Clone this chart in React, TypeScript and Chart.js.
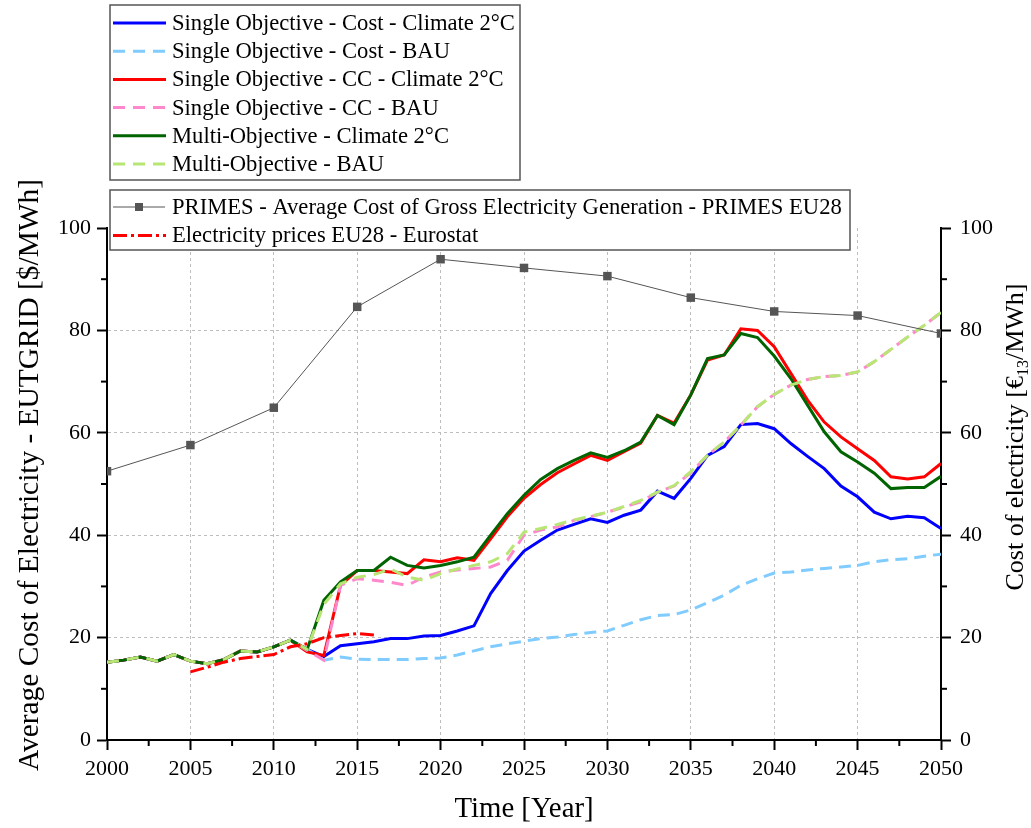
import React, { useEffect, useRef } from 'react';
import { Chart, registerables } from 'chart.js';

Chart.register(...registerables);

const FONT = '"Liberation Serif", "Times New Roman", serif';

// ---------- data ----------
const years = [
  2000, 2001, 2002, 2003, 2004, 2005, 2006, 2007, 2008, 2009,
  2010, 2011, 2012, 2013, 2014, 2015, 2016, 2017, 2018, 2019,
  2020, 2021, 2022, 2023, 2024, 2025, 2026, 2027, 2028, 2029,
  2030, 2031, 2032, 2033, 2034, 2035, 2036, 2037, 2038, 2039,
  2040, 2041, 2042, 2043, 2044, 2045, 2046, 2047, 2048, 2049, 2050,
];

const soCostClimate = [
  15.2, 15.6, 16.2, 15.4, 16.7, 15.4, 14.9, 15.7, 17.4, 17.2,
  18.2, 19.5, 17.7, 16.3, 18.4, 18.8, 19.2, 19.8, 19.8, 20.3,
  20.4, 21.3, 22.3, 28.6, 33.1, 36.9, 39.0, 41.0, 42.1, 43.2,
  42.5, 43.9, 44.9, 48.6, 47.2, 51.1, 55.6, 57.3, 61.6, 61.8,
  60.8, 57.9, 55.4, 53.0, 49.6, 47.5, 44.5, 43.2, 43.7, 43.4, 41.3,
];

const soCostBAU = [
  15.2, 15.6, 16.2, 15.4, 16.7, 15.4, 14.9, 15.7, 17.4, 17.2,
  18.2, 19.5, 17.7, 15.6, 16.2, 15.8, 15.7, 15.7, 15.7, 15.9,
  16.0, 16.6, 17.4, 18.2, 18.8, 19.3, 19.8, 20.1, 20.6, 21.0,
  21.3, 22.4, 23.5, 24.3, 24.5, 25.4, 26.8, 28.3, 30.2, 31.5,
  32.6, 32.8, 33.2, 33.5, 33.8, 34.1, 34.8, 35.2, 35.4, 35.9, 36.3,
];

const soCCClimate = [
  15.2, 15.6, 16.2, 15.4, 16.7, 15.4, 14.9, 15.7, 17.4, 17.2,
  18.2, 19.5, 17.2, 16.5, 30.2, 33.1, 33.1, 32.8, 32.5, 35.2,
  34.8, 35.6, 35.1, 39.3, 43.6, 47.2, 49.9, 52.2, 53.9, 55.6,
  54.6, 56.3, 58.0, 63.4, 61.9, 67.4, 74.2, 75.2, 80.3, 80.0,
  76.8, 71.6, 66.4, 62.1, 59.2, 56.9, 54.6, 51.4, 51.0, 51.4, 54.0,
];

const soCCBAU = [
  15.2, 15.6, 16.2, 15.4, 16.7, 15.4, 14.9, 15.7, 17.4, 17.2,
  18.2, 19.5, 17.5, 15.6, 30.2, 31.5, 31.2, 30.8, 30.2, 31.8,
  32.8, 33.2, 33.5, 33.8, 35.1, 40.0, 41.0, 41.6, 42.9, 43.6,
  44.5, 45.5, 46.5, 48.4, 49.6, 52.2, 55.6, 58.2, 61.5, 65.1,
  67.5, 69.3, 70.4, 71.0, 71.2, 71.9, 73.9, 76.3, 78.7, 81.0, 83.5,
];

const moClimate = [
  15.2, 15.6, 16.2, 15.4, 16.7, 15.4, 14.9, 15.7, 17.4, 17.2,
  18.2, 19.5, 17.7, 27.3, 30.9, 33.1, 33.1, 35.7, 34.1, 33.6,
  34.1, 34.8, 35.7, 40.0, 44.2, 47.8, 50.9, 53.0, 54.6, 56.1,
  55.2, 56.5, 58.2, 63.4, 61.6, 67.4, 74.5, 75.2, 79.4, 78.6,
  75.0, 70.6, 65.4, 60.2, 56.3, 54.3, 52.1, 49.1, 49.3, 49.3, 51.5,
];

const moBAU = [
  15.2, 15.6, 16.2, 15.4, 16.7, 15.4, 14.9, 15.7, 17.4, 17.2,
  18.2, 19.5, 17.7, 26.5, 30.5, 31.8, 32.3, 33.4, 31.8, 31.2,
  32.5, 33.4, 34.1, 34.8, 36.4, 40.6, 41.3, 42.1, 43.0, 43.7,
  44.5, 45.6, 46.8, 48.4, 49.7, 52.4, 55.6, 58.2, 61.5, 65.1,
  67.5, 69.3, 70.4, 71.0, 71.2, 71.9, 73.9, 76.3, 78.7, 81.0, 83.5,
];

const primesYears = [2000, 2005, 2010, 2015, 2020, 2025, 2030, 2035, 2040, 2045, 2050];
const primesValues = [52.5, 57.6, 64.9, 84.6, 93.9, 92.2, 90.6, 86.4, 83.7, 82.9, 79.4];

const eurostatYears = [2005, 2006, 2007, 2008, 2009, 2010, 2011, 2012, 2013, 2014, 2015, 2016];
const eurostatValues = [13.3, 14.2, 15.2, 15.9, 16.3, 16.7, 18.2, 18.8, 20.0, 20.4, 20.8, 20.5];

const yMinorTicks = [10, 30, 50, 70, 90];
const xMinorTicks = [2002.5, 2007.5, 2012.5, 2017.5, 2022.5, 2027.5, 2032.5, 2037.5, 2042.5, 2047.5];

const legendTop = [
  { label: 'Single Objective - Cost - Climate 2°C', color: '#0000ff', dash: [] as number[] },
  { label: 'Single Objective - Cost - BAU', color: '#80ccff', dash: [12, 8] },
  { label: 'Single Objective - CC - Climate 2°C', color: '#ff0000', dash: [] as number[] },
  { label: 'Single Objective - CC - BAU', color: '#ff88cc', dash: [12, 8] },
  { label: 'Multi-Objective - Climate 2°C', color: '#006400', dash: [] as number[] },
  { label: 'Multi-Objective - BAU', color: '#b8e675', dash: [12, 8] },
];

const primesLabel = 'PRIMES - Average Cost of Gross Electricity Generation - PRIMES EU28';
const eurostatLabel = 'Electricity prices EU28 - Eurostat';

const toPoints = (xs: number[], ys: number[]) => xs.map((x, i) => ({ x, y: ys[i] }));

const decorPlugin = {
  id: 'decor',
  afterDraw(chart: any) {
    const ctx: CanvasRenderingContext2D = chart.ctx;
    const xs = chart.scales.x;
    const yl = chart.scales.y;
    const ca = chart.chartArea;
    const seg = (x1: number, y1: number, x2: number, y2: number) => {
      ctx.beginPath();
      ctx.moveTo(x1, y1);
      ctx.lineTo(x2, y2);
      ctx.stroke();
    };
    ctx.save();
    // minor ticks
    ctx.strokeStyle = '#000';
    ctx.lineWidth = 2;
    ctx.setLineDash([]);
    yMinorTicks.forEach((v) => {
      const py = yl.getPixelForValue(v);
      seg(ca.left - 6, py, ca.left, py);
      seg(ca.right, py, ca.right + 6, py);
    });
    xMinorTicks.forEach((v) => {
      const px = xs.getPixelForValue(v);
      seg(px, ca.bottom, px, ca.bottom + 6);
    });

    // axis titles
    ctx.fillStyle = '#000';
    ctx.textBaseline = 'alphabetic';
    ctx.textAlign = 'center';
    ctx.font = `28.8px ${FONT}`;
    ctx.fillText('Time [Year]', (ca.left + ca.right) / 2, 817);

    ctx.save();
    ctx.translate(38, 475);
    ctx.rotate(-Math.PI / 2);
    ctx.font = `29.4px ${FONT}`;
    ctx.fillText('Average Cost of Electricity - EUTGRID [$/MWh]', 0, 0);
    ctx.restore();

    ctx.save();
    ctx.translate(1023, 437);
    ctx.rotate(-Math.PI / 2);
    ctx.textAlign = 'left';
    const parts = [
      { t: 'Cost of electricity [€', f: `26px ${FONT}`, dy: 0 },
      { t: '13', f: `16px ${FONT}`, dy: 5 },
      { t: '/MWh]', f: `26px ${FONT}`, dy: 0 },
    ];
    let total = 0;
    parts.forEach((p) => {
      ctx.font = p.f;
      total += ctx.measureText(p.t).width;
    });
    let cx = -total / 2;
    parts.forEach((p) => {
      ctx.font = p.f;
      ctx.fillText(p.t, cx, p.dy);
      cx += ctx.measureText(p.t).width;
    });
    ctx.restore();

    // legend 1
    const lf = `22.6px ${FONT}`;
    ctx.fillStyle = '#fff';
    ctx.fillRect(110, 5, 410, 175);
    ctx.strokeStyle = '#555';
    ctx.lineWidth = 1.5;
    ctx.strokeRect(110, 5, 410, 175);
    ctx.font = lf;
    ctx.textAlign = 'left';
    ctx.textBaseline = 'middle';
    legendTop.forEach((e, i) => {
      const y = 23 + i * 28.2;
      ctx.strokeStyle = e.color;
      ctx.lineWidth = 3;
      ctx.setLineDash(e.dash);
      seg(113, y, 166, y);
      ctx.setLineDash([]);
      ctx.fillStyle = '#000';
      ctx.fillText(e.label, 172, y + 1);
    });

    // legend 2
    ctx.fillStyle = '#fff';
    ctx.fillRect(110, 190, 740, 60);
    ctx.strokeStyle = '#555';
    ctx.lineWidth = 1.5;
    ctx.strokeRect(110, 190, 740, 60);
    let y = 207;
    ctx.strokeStyle = '#555';
    ctx.lineWidth = 1;
    seg(113, y, 165, y);
    ctx.fillStyle = '#555';
    ctx.fillRect(135, y - 4, 8, 8);
    ctx.fillStyle = '#000';
    ctx.fillText(primesLabel, 172, y + 1);
    y = 235.5;
    ctx.strokeStyle = '#ff0000';
    ctx.lineWidth = 3;
    ctx.setLineDash([14, 4, 3, 4]);
    seg(113, y, 166, y);
    ctx.setLineDash([]);
    ctx.fillStyle = '#000';
    ctx.fillText(eurostatLabel, 172, y + 1);
    ctx.restore();
  },
};

export default function App() {
  const ref = useRef<HTMLCanvasElement | null>(null);
  useEffect(() => {
    if (!ref.current) return;
    const line = (label: string, ys: number[], color: string, dash: number[], order: number) => ({
      label,
      data: toPoints(years, ys),
      borderColor: color,
      backgroundColor: color,
      borderWidth: 3,
      borderDash: dash,
      pointRadius: 0,
      tension: 0,
      yAxisID: 'y',
      order,
    });
    const chart = new Chart(ref.current, {
      type: 'line',
      data: {
        datasets: [
          line(legendTop[0].label, soCostClimate, legendTop[0].color, [], 7),
          line(legendTop[1].label, soCostBAU, legendTop[1].color, [12, 7], 6),
          line(legendTop[2].label, soCCClimate, legendTop[2].color, [], 5),
          line(legendTop[3].label, soCCBAU, legendTop[3].color, [12, 8], 4),
          line(legendTop[4].label, moClimate, legendTop[4].color, [], 3),
          line(legendTop[5].label, moBAU, legendTop[5].color, [12, 8], 2),
          {
            label: primesLabel,
            data: toPoints(primesYears, primesValues),
            borderColor: '#555555',
            backgroundColor: '#555555',
            borderWidth: 1,
            pointStyle: 'rect',
            pointRadius: 6,
            pointBorderWidth: 0,
            tension: 0,
            yAxisID: 'y2',
            order: 1,
          },
          {
            label: eurostatLabel,
            data: toPoints(eurostatYears, eurostatValues),
            borderColor: '#ff0000',
            backgroundColor: '#ff0000',
            borderWidth: 3,
            borderDash: [14, 4, 3, 4],
            pointRadius: 0,
            tension: 0,
            yAxisID: 'y2',
            order: 0,
          },
        ] as any,
      },
      options: {
        responsive: false,
        animation: false,
        events: [],
        layout: { padding: { top: 228, left: 0, right: 0, bottom: 0 } },
        plugins: { legend: { display: false }, tooltip: { enabled: false }, title: { display: false } },
        scales: {
          x: {
            type: 'linear',
            min: 2000,
            max: 2050,
            afterFit: (s: any) => { s.height = 88; },
            ticks: {
              stepSize: 5,
              padding: 6,
              color: '#000',
              font: { family: FONT, size: 22 },
              callback: (v: any) => String(v),
              maxRotation: 0,
            },
            grid: {
              color: (c: any) => (c.tick && (c.tick.value === 2000 || c.tick.value === 2050) ? 'rgba(0,0,0,0)' : '#bdbdbd'),
              lineWidth: 1,
              tickColor: '#000',
              tickLength: 10,
              tickWidth: 2,
            },
            border: { display: true, color: '#000', width: 2, dash: [3, 3] },
          },
          y: {
            type: 'linear',
            position: 'left',
            min: 0,
            max: 100,
            afterFit: (s: any) => { s.width = 107; },
            ticks: {
              stepSize: 20,
              padding: 6,
              color: '#000',
              font: { family: FONT, size: 22 },
              callback: (v: any) => String(v),
            },
            grid: {
              color: (c: any) => (c.tick && (c.tick.value === 0 || c.tick.value === 100) ? 'rgba(0,0,0,0)' : '#bdbdbd'),
              lineWidth: 1,
              tickColor: '#000',
              tickLength: 10,
              tickWidth: 2,
            },
            border: { display: true, color: '#000', width: 2, dash: [3, 3] },
          },
          y2: {
            type: 'linear',
            position: 'right',
            min: 0,
            max: 100,
            afterFit: (s: any) => { s.width = 90; },
            ticks: {
              stepSize: 20,
              padding: 9,
              color: '#000',
              font: { family: FONT, size: 22 },
              callback: (v: any) => String(v),
            },
            grid: {
              drawOnChartArea: false,
              color: '#000',
              tickColor: '#000',
              tickLength: 10,
              tickWidth: 2,
            },
            border: { display: true, color: '#000', width: 2 },
          },
        },
      } as any,
      plugins: [decorPlugin],
    });
    return () => chart.destroy();
  }, []);
  return (
    <div style={{ position: 'absolute', left: 0, top: 0, width: 1031, height: 828, background: '#fff' }}>
      <canvas ref={ref} width={1031} height={828} style={{ width: 1031, height: 828, display: 'block' }} />
    </div>
  );
}
